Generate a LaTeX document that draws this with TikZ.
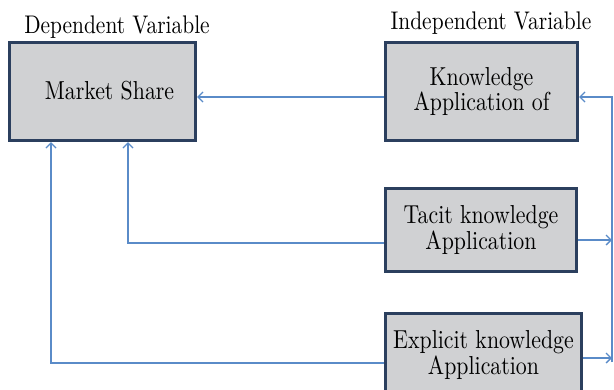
\documentclass[tikz,border=0pt]{standalone}
\usepackage{fontspec}
\setmainfont{lmroman10-regular.otf}[FakeStretch=0.84]
\usetikzlibrary{arrows.meta}
\definecolor{boxline}{HTML}{2B3F5E}
\definecolor{boxfill}{HTML}{D0D1D3}
\definecolor{conn}{HTML}{5A8BC8}
\tikzset{
  varbox/.style={draw=boxline, line width=3.2pt, fill=boxfill, rectangle, align=center,
    font=\fontsize{26}{25.5}\selectfont, inner sep=0pt},
  header/.style={anchor=base, font=\fontsize{25.5}{26}\selectfont, inner sep=0pt},
  conn/.style={draw=conn, line width=1.3pt},
  arr/.style={conn, -{Straight Barb[length=5pt,width=10pt,line width=1.3pt]}},
}
\begin{document}
\begin{tikzpicture}[x=1pt,y=-1pt]
\useasboundingbox (0,0) rectangle (614,389);
\clip (0,0) rectangle (614,389);
% boxes
\node[varbox, minimum width=186pt, minimum height=98pt] (ms) at (102.5,91.5) {\hspace*{14pt}Market Share\rule[-3pt]{0pt}{1pt}};
\node[varbox, minimum width=192pt, minimum height=98pt] (know) at (481.5,91.5) {Knowledge\\Application of};
\node[varbox, minimum width=191pt, minimum height=83pt] (tacit) at (481,230) {Tacit knowledge\\Application};
\node[varbox, minimum width=196pt, minimum height=83pt] (expl) at (483.5,355) {Explicit knowledge\\Application};
% headers
\node[header] (hdep) at (117,33) {Dependent Variable};
\node[header] (hind) at (491,29) {Independent Variable};
% helper coordinates
\coordinate (ay) at (0,97);
\coordinate (ty) at (0,243);
\coordinate (tyr) at (0,240);
\coordinate (ey) at (0,363);
\coordinate (eyr) at (0,358);
\coordinate (xt) at (128,0);
\coordinate (xe) at (51,0);
\coordinate (xr) at (612,0);
\coordinate (vbot) at (612,362);
% connectors
\draw[arr] (know.west |- ay) -- (ms.east |- ay);
\draw[arr] (tacit.west |- ty) -- (xt |- ty) -- (xt |- ms.south);
\draw[arr] (expl.west |- ey) -- (xe |- ey) -- (xe |- ms.south);
\draw[arr] (tacit.east |- tyr) -- (xr |- tyr);
\draw[arr] (expl.east |- eyr) -- (xr |- eyr);
\draw[arr] (vbot) -- (xr |- ay) -- (know.east |- ay);
\end{tikzpicture}
\end{document}
